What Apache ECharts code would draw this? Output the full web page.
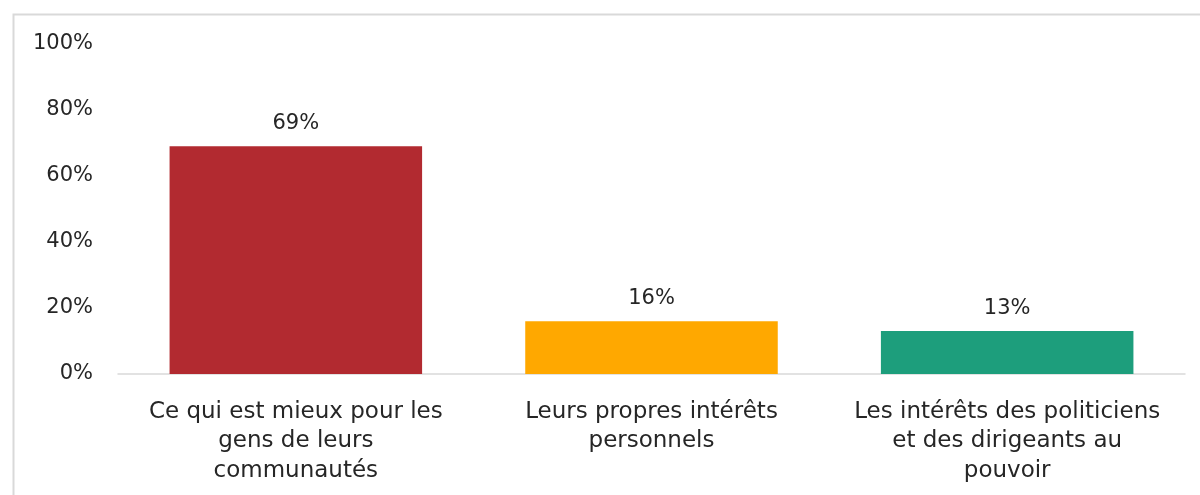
<!DOCTYPE html>
<html>
<head>
<meta charset="utf-8">
<script src="https://cdn.jsdelivr.net/npm/echarts@6/dist/echarts.min.js"></script>
<style>html,body{margin:0;padding:0;background:#fff;}#c{width:1200px;height:495px;}</style>
</head>
<body>
<div id="c"></div>
<script>
const categories = [
  "Ce qui est mieux pour les\ngens de leurs\ncommunautés",
  "Leurs propres intérêts\npersonnels",
  "Les intérêts des politiciens\net des dirigeants au\npouvoir"
];
const values = [69, 16, 13];
const barColors = ["#B22A30", "#FFA800", "#1D9E7C"];
const yTicks = [0, 20, 40, 60, 80, 100];

const FONT = "'DejaVu Sans', sans-serif";
const chart = echarts.init(document.getElementById('c'), null, {renderer: 'canvas'});
chart.setOption({
  animation: false,
  backgroundColor: '#fff',
  graphic: [{
    type: 'rect', left: 11, top: 12, z: -1,
    shape: {width: 1300, height: 600},
    style: {fill: 'none', stroke: '#d9d9d9', lineWidth: 2}
  }],
  grid: {left: 118, right: 15, top: 44, bottom: 121},
  xAxis: {
    type: 'category',
    data: categories,
    axisLine: {lineStyle: {color: '#d9d9d9', width: 1.5}},
    axisTick: {show: false},
    axisLabel: {
      color: '#262626', fontSize: 23, fontFamily: FONT,
      lineHeight: 29.5, margin: 23, interval: 0, align: 'center'
    }
  },
  yAxis: {
    type: 'value', min: yTicks[0], max: yTicks[yTicks.length - 1], interval: 20,
    splitLine: {show: false},
    axisLine: {show: false},
    axisTick: {show: false},
    axisLabel: {
      color: '#262626', fontSize: 21, fontFamily: FONT, margin: 25,
      formatter: v => v + '%'
    }
  },
  series: [{
    type: 'bar',
    barWidth: '71%',
    data: values.map((v, i) => ({value: v, itemStyle: {color: barColors[i]}})),
    label: {
      show: true, position: 'top', distance: 12,
      color: '#262626', fontSize: 21, fontFamily: FONT,
      formatter: p => p.value + '%'
    }
  }]
});
</script>
</body>
</html>
